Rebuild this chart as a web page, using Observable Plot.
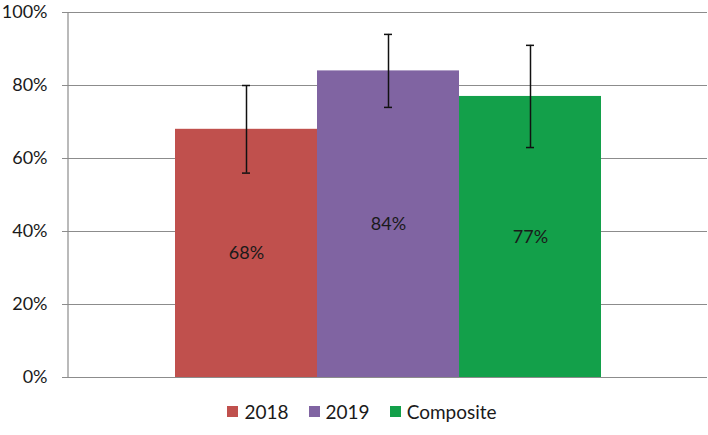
<!DOCTYPE html>
<html>
<head>
<meta charset="utf-8">
<script src="https://cdn.jsdelivr.net/npm/d3@7"></script>
<script src="https://cdn.jsdelivr.net/npm/@observablehq/plot@0.6"></script>
<style>
  html, body { margin: 0; padding: 0; background: #fff; }
  #chart { width: 708px; }
  .legend {
    display: flex; justify-content: center; align-items: center;
    height: 42px; padding-left: 16px; box-sizing: border-box;
    font-family: Lato, "Open Sans", sans-serif; font-size: 19px; color: #1a1a1a;
  }
  .legend span.item { display: inline-flex; align-items: center; margin: 0 10px; }
  .legend span.sw { display: inline-block; width: 11px; height: 11px; margin-right: 6px; }
</style>
</head>
<body>
<div id="chart"></div>
<script>
// Series shown, their percentages and the half-width of each error bar
const series = ["2018", "2019", "Composite"];
const values = [68, 84, 77];
const errors = [12, 10, 14];
const colors = ["#C0504D", "#8064A2", "#13A04A"];
const yTicks = [0, 20, 40, 60, 80, 100];

const rows = series.map((s, i) => ({
  series: s, value: values[i], lo: values[i] - errors[i], hi: values[i] + errors[i]
}));

const plot = Plot.plot({
  width: 708,
  height: 390,
  marginLeft: 68,
  marginRight: 1,
  marginTop: 12,
  marginBottom: 13,
  style: { fontFamily: "Lato, 'Open Sans', sans-serif", fontSize: "18px", color: "#1a1a1a", background: "#fff" },
  x: { domain: series, paddingInner: 0, paddingOuter: 0.75, axis: null },
  y: { domain: [0, 100], ticks: yTicks, tickFormat: d => d + "%", label: null },
  color: { domain: series, range: colors },
  marks: [
    Plot.ruleY(yTicks, { stroke: "#8c8c8c", strokeWidth: 1.2, strokeOpacity: 1 }),
    Plot.axisY({ ticks: yTicks, tickFormat: d => d + "%", tickSize: 6, tickPadding: 15,
                 stroke: "#8c8c8c", fontSize: 18, label: null }),
    Plot.barY(rows, { x: "series", y: "value", fill: "series" }),
    Plot.ruleX(rows, { x: "series", y1: "lo", y2: "hi", stroke: "#111", strokeWidth: 1.5 }),
    Plot.tickY(rows, { x: "series", y: "lo", stroke: "#111", strokeWidth: 1.5, insetLeft: 67, insetRight: 67 }),
    Plot.tickY(rows, { x: "series", y: "hi", stroke: "#111", strokeWidth: 1.5, insetLeft: 67, insetRight: 67 }),
    Plot.text(rows, { x: "series", y: d => d.value / 2, text: d => d.value + "%",
                      fill: "#1a1a1a", fontSize: 18 })
  ]
});

// vertical axis line along the left edge of the frame
const svg = d3.select(plot);
svg.append("line")
  .attr("x1", 68).attr("x2", 68).attr("y1", 12).attr("y2", 377)
  .attr("stroke", "#8c8c8c").attr("stroke-width", 1.2);

document.getElementById("chart").appendChild(plot);

// legend below the chart
const legend = d3.select("#chart").append("div").attr("class", "legend");
series.forEach((s, i) => {
  const item = legend.append("span").attr("class", "item");
  item.append("span").attr("class", "sw").style("background", colors[i]);
  item.append("span").text(s);
});
</script>
</body>
</html>
